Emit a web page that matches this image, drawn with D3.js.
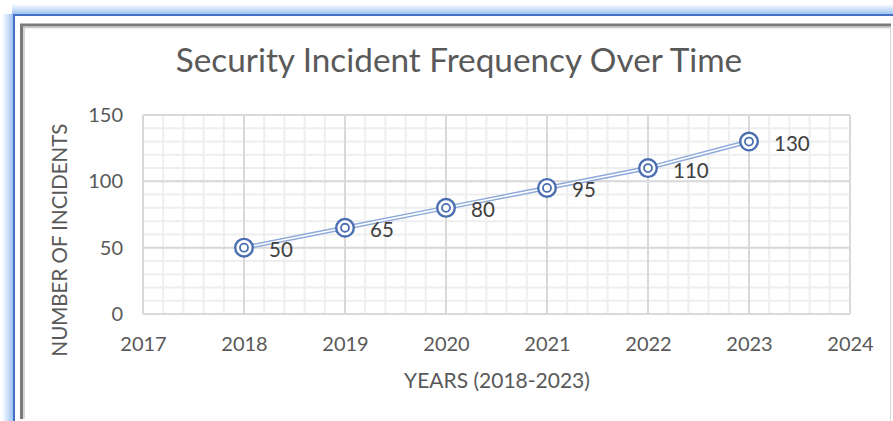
<!DOCTYPE html>
<html>
<head>
<meta charset="utf-8">
<script src="https://cdn.jsdelivr.net/npm/d3@7"></script>
<style>
  body { margin: 0; background: #fff; }
  svg { display: block; font-family: Lato, "Open Sans", sans-serif; }
</style>
</head>
<body>
<svg id="chart" width="893" height="421"></svg>
<script>
// data
const years = [2018, 2019, 2020, 2021, 2022, 2023];
const incidents = [50, 65, 80, 95, 110, 130];
const xTicks = [2017, 2018, 2019, 2020, 2021, 2022, 2023, 2024];
const yTicks = [0, 50, 100, 150];

const svg = d3.select("#chart");
const W = 893, H = 421;
const plot = {left: 143, top: 115, right: 850, bottom: 314};

// frame: blue glow + gray bevel
const defs = svg.append("defs");
let gTop = defs.append("linearGradient").attr("id", "glowTop")
    .attr("x1", 0).attr("y1", 0).attr("x2", 0).attr("y2", 1);
gTop.append("stop").attr("offset", "0%").attr("stop-color", "#ffffff");
gTop.append("stop").attr("offset", "100%").attr("stop-color", "#9ec3f2");
let gLeft = defs.append("linearGradient").attr("id", "glowLeft")
    .attr("x1", 0).attr("y1", 0).attr("x2", 1).attr("y2", 0);
gLeft.append("stop").attr("offset", "0%").attr("stop-color", "#ffffff");
gLeft.append("stop").attr("offset", "100%").attr("stop-color", "#9ec3f2");

svg.append("rect").attr("x", 12).attr("y", 4).attr("width", W - 12).attr("height", 10)
    .attr("fill", "url(#glowTop)");
svg.append("rect").attr("x", 2).attr("y", 14).attr("width", 11).attr("height", H - 14)
    .attr("fill", "url(#glowLeft)");
svg.append("line").attr("x1", 13).attr("x2", W).attr("y1", 15).attr("y2", 15)
    .style("stroke", "#4472c4").style("stroke-width", 2);
svg.append("line").attr("x1", 14).attr("x2", 14).attr("y1", 14).attr("y2", H)
    .style("stroke", "#4472c4").style("stroke-width", 2);

svg.append("line").attr("x1", 20).attr("x2", 891).attr("y1", 25).attr("y2", 25)
    .style("stroke", "#7a7a7a").style("stroke-width", 3);
svg.append("line").attr("x1", 20).attr("x2", 891).attr("y1", 27.5).attr("y2", 27.5)
    .style("stroke", "#c8c8c8").style("stroke-width", 1.5);
svg.append("line").attr("x1", 21.5).attr("x2", 21.5).attr("y1", 24).attr("y2", 419)
    .style("stroke", "#7a7a7a").style("stroke-width", 3);
svg.append("line").attr("x1", 24).attr("x2", 24).attr("y1", 27).attr("y2", 419)
    .style("stroke", "#c8c8c8").style("stroke-width", 1.5);
svg.append("line").attr("x1", 890.5).attr("x2", 890.5).attr("y1", 27).attr("y2", H)
    .style("stroke", "#d6d6d6").style("stroke-width", 1);

// scales
const x = d3.scaleLinear().domain([2017, 2024]).range([plot.left, plot.right]);
const y = d3.scaleLinear().domain([0, 150]).range([plot.bottom, plot.top]);

// minor grid
const minorX = d3.range(2017, 2024.001, 0.2);
const minorY = d3.range(0, 150.001, 10);
svg.append("g").selectAll("line").data(minorX).enter().append("line")
    .attr("x1", d => x(d)).attr("x2", d => x(d))
    .attr("y1", plot.top).attr("y2", plot.bottom)
    .style("stroke", "#eeeeee").style("stroke-width", 2);
svg.append("g").selectAll("line").data(minorY).enter().append("line")
    .attr("x1", plot.left).attr("x2", plot.right)
    .attr("y1", d => y(d)).attr("y2", d => y(d))
    .style("stroke", "#eeeeee").style("stroke-width", 2);

// major grid
svg.append("g").selectAll("line").data(xTicks).enter().append("line")
    .attr("x1", d => x(d)).attr("x2", d => x(d))
    .attr("y1", plot.top).attr("y2", plot.bottom)
    .style("stroke", "#d9d9d9").style("stroke-width", 2);
svg.append("g").selectAll("line").data(yTicks).enter().append("line")
    .attr("x1", plot.left).attr("x2", plot.right)
    .attr("y1", d => y(d)).attr("y2", d => y(d))
    .style("stroke", "#d9d9d9").style("stroke-width", 2);

// axes (labels only)
const xAxis = svg.append("g")
    .attr("transform", `translate(0,${plot.bottom})`)
    .call(d3.axisBottom(x).tickValues(xTicks).tickFormat(d3.format("d")).tickSize(0).tickPadding(23));
const yAxis = svg.append("g")
    .attr("transform", `translate(${plot.left},0)`)
    .call(d3.axisLeft(y).tickValues(yTicks).tickSize(0).tickPadding(20));
[xAxis, yAxis].forEach(function(a) {
    a.select(".domain").remove();
    a.selectAll("text")
        .style("font-family", "Lato, 'Open Sans', sans-serif")
        .style("font-size", "20px")
        .style("fill", "#595959");
});

// series: compound (double) line
const line = d3.line().x((d, i) => x(years[i])).y(d => y(d));
svg.append("path").datum(incidents).attr("d", line)
    .style("fill", "none").style("stroke", "#8eaadb").style("stroke-width", 4.5);
svg.append("path").datum(incidents).attr("d", line)
    .style("fill", "none").style("stroke", "#ffffff").style("stroke-width", 1.6);

// markers: bullseye
const pts = svg.append("g").selectAll("g").data(incidents).enter().append("g")
    .attr("transform", (d, i) => `translate(${x(years[i])},${y(d)})`);
pts.append("circle").attr("r", 8.8)
    .style("fill", "#ffffff").style("stroke", "#4a6eb0").style("stroke-width", 2.4);
pts.append("circle").attr("r", 4)
    .style("fill", "#ffffff").style("stroke", "#4a6eb0").style("stroke-width", 1.8);

// data labels
svg.append("g").selectAll("text").data(incidents).enter().append("text")
    .attr("x", (d, i) => x(years[i]) + 25)
    .attr("y", d => y(d) + 9.5)
    .style("font-size", "20.5px")
    .style("fill", "#404040")
    .text(d => d);

// titles
svg.append("text").attr("x", 459).attr("y", 72)
    .attr("text-anchor", "middle")
    .style("font-size", "33.3px").style("fill", "#595959")
    .text("Security Incident Frequency Over Time");
svg.append("text").attr("x", 497).attr("y", 388)
    .attr("text-anchor", "middle")
    .style("font-size", "21px").style("fill", "#595959")
    .text("YEARS (2018-2023)");
svg.append("text")
    .attr("transform", "translate(67,240) rotate(-90)")
    .attr("text-anchor", "middle")
    .style("font-size", "20.5px").style("fill", "#595959")
    .text("NUMBER OF INCIDENTS");
</script>
</body>
</html>
